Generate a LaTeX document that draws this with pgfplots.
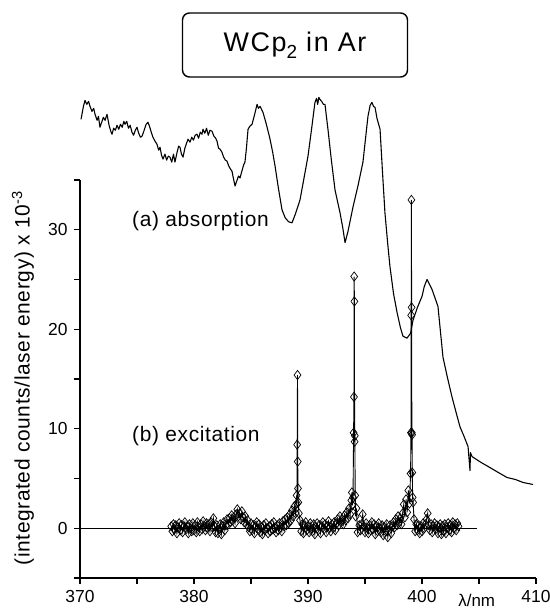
\documentclass[border=0pt]{standalone}
\usepackage{fontspec}
\setmainfont{Liberation Sans}
\usepackage{pgfplots}
\usepackage{pgfplotstable}
\pgfplotsset{compat=1.18}

\pgfplotstableread{
x y
370.09 41.1
370.30 42.4
370.44 43.0
370.60 42.6
370.75 42.9
370.88 42.4
371.05 41.9
371.20 42.2
371.32 41.6
371.50 41.0
371.62 41.4
371.75 40.3
371.90 40.8
372.05 41.3
372.20 41.0
372.37 41.6
372.55 40.5
372.70 39.9
372.81 39.6
372.95 40.2
373.10 40.0
373.25 40.5
373.40 40.1
373.55 40.6
373.70 40.3
373.85 40.9
373.95 40.6
374.10 40.9
374.25 40.2
374.40 40.5
374.56 39.8
374.70 39.5
374.85 40.0
375.00 40.3
375.15 39.7
375.30 39.3
375.44 39.4
375.60 39.9
375.80 40.6
375.96 40.8
376.10 40.4
376.25 39.8
376.40 39.3
376.58 38.9
376.75 38.6
376.90 38.0
377.02 38.3
377.15 37.5
377.28 37.1
377.45 37.6
377.60 37.0
377.75 37.4
377.89 37.3
378.05 36.8
378.20 37.6
378.33 36.8
378.50 37.7
378.65 38.4
378.77 38.3
378.90 37.6
379.04 37.3
379.20 38.2
379.35 38.7
379.47 39.1
379.65 38.8
379.80 39.3
379.95 39.0
380.10 39.5
380.26 39.6
380.40 39.2
380.55 39.8
380.70 39.6
380.79 40.1
380.95 39.7
381.10 40.2
381.25 39.5
381.40 40.0
381.58 39.9
381.75 39.4
381.90 39.2
382.02 38.9
382.15 38.2
382.28 38.1
382.45 37.8
382.60 37.3
382.75 37.0
382.89 36.9
383.05 36.4
383.20 36.1
383.33 35.9
383.45 35.2
383.60 34.4
383.75 34.9
383.90 35.4
384.04 35.2
384.20 35.9
384.35 36.5
384.47 36.8
384.60 38.2
384.74 40.1
384.90 40.4
385.09 40.6
385.30 41.5
385.53 42.6
385.65 42.2
385.80 42.4
386.05 41.8
386.30 40.8
386.50 39.9
386.67 39.1
386.90 37.8
387.11 36.4
387.40 34.2
387.72 32.0
388.00 31.2
388.30 30.8
388.60 30.7
388.90 31.6
389.30 33.0
389.65 35.2
390.00 37.4
390.30 40.0
390.61 42.8
390.75 43.2
390.85 42.6
390.95 43.3
391.05 43.1
391.20 42.9
391.35 42.6
391.49 42.6
391.75 40.1
392.05 37.0
392.37 34.0
392.81 31.7
393.05 30.2
393.25 28.7
393.50 29.8
393.95 32.3
394.40 34.5
394.82 36.8
395.26 41.4
395.45 42.5
395.61 42.8
395.75 42.4
395.88 42.3
396.05 41.2
396.32 40.1
396.55 35.5
396.75 31.7
397.00 28.5
397.19 26.3
397.50 23.6
397.81 21.7
398.10 20.2
398.33 19.3
398.68 19.1
399.00 19.6
399.21 20.9
399.60 22.2
400.00 23.3
400.20 24.3
400.44 25.0
400.88 24.0
401.40 22.3
401.84 17.2
402.20 15.3
402.63 13.2
403.00 11.6
403.33 10.2
403.70 9.2
404.04 8.2
404.21 5.8
404.25 7.6
404.39 7.2
405.20 6.6
405.96 6.1
406.70 5.6
407.46 5.1
408.20 4.9
408.86 4.6
409.74 4.4
}\absorption

\pgfplotstableread{
x y
378.0 0.2
378.1 -0.3
378.2 0.4
378.3 -0.1
378.4 0.3
378.5 -0.5
378.6 0.1
378.7 0.5
378.8 -0.2
378.9 0.3
379.0 -0.4
379.1 0.2
379.2 0.6
379.3 -0.1
379.4 0.2
379.5 -0.5
379.6 0.4
379.7 0.0
379.8 -0.3
379.9 0.5
380.0 -0.2
380.1 0.3
380.2 -0.4
380.3 0.6
380.4 0.1
380.5 -0.3
380.6 0.4
380.7 -0.1
380.8 0.7
380.9 0.2
381.0 -0.2
381.1 0.5
381.2 0.0
381.3 0.4
381.4 -0.3
381.5 0.6
381.6 0.1
381.7 1.0
381.8 0.2
381.9 -0.4
382.0 0.3
382.1 -0.5
382.2 -0.1
382.3 0.4
382.4 -0.6
382.5 0.2
382.6 0.6
382.7 -0.2
382.8 0.3
382.9 0.9
383.0 0.4
383.1 1.0
383.2 0.6
383.3 1.3
383.4 0.8
383.5 1.1
383.6 0.5
383.7 1.4
383.8 1.9
383.9 1.2
384.0 1.5
384.1 0.9
384.2 1.7
384.3 1.1
384.4 0.6
384.5 1.2
384.6 0.4
384.7 0.8
384.8 0.1
384.9 -0.3
385.0 0.5
385.1 -0.2
385.2 0.3
385.3 -0.5
385.4 0.2
385.5 0.6
385.6 -0.1
385.7 0.4
385.8 -0.4
385.9 0.1
386.0 -0.6
386.1 0.3
386.2 -0.2
386.3 0.5
386.4 0.0
386.5 -0.5
386.6 0.2
386.7 -0.3
386.8 0.4
386.9 -0.1
387.0 0.6
387.1 0.0
387.2 -0.4
387.3 0.3
387.4 -0.2
387.5 0.5
387.6 0.1
387.7 -0.3
387.8 0.7
387.9 0.2
388.0 0.9
388.1 0.3
388.2 1.1
388.3 0.5
388.4 1.4
388.5 0.8
388.6 1.8
388.7 1.2
388.8 2.2
388.9 1.5
389.00 3.3
389.03 2.5
389.05 8.4
389.08 15.4
389.10 6.7
389.12 4.0
389.15 2.6
389.20 1.5
389.30 0.8
389.4 -0.3
389.5 0.4
389.6 -0.5
389.7 0.3
389.8 0.6
389.9 -0.2
390.0 0.2
390.1 -0.4
390.2 0.5
390.3 0.0
390.4 -0.3
390.5 0.4
390.6 -0.6
390.7 0.1
390.8 0.5
390.9 -0.2
391.0 0.3
391.1 -0.5
391.2 0.2
391.3 0.6
391.4 -0.1
391.5 0.4
391.6 -0.4
391.7 0.2
391.8 0.7
391.9 0.1
392.0 -0.3
392.1 0.4
392.2 0.0
392.3 0.6
392.4 -0.2
392.5 0.5
392.6 0.9
392.7 0.3
392.8 1.2
392.9 0.6
393.0 0.9
393.1 0.4
393.2 1.3
393.3 0.8
393.4 1.6
393.5 1.0
393.6 2.0
393.7 1.4
393.80 2.8
393.85 3.6
393.90 2.3
393.95 3.1
394.00 9.6
394.03 13.2
394.05 25.3
394.07 22.8
394.09 8.7
394.11 9.3
394.14 3.3
394.18 1.2
394.25 2.0
394.35 -0.4
394.5 0.3
394.6 -0.2
394.7 0.4
394.8 1.4
394.9 0.2
395.0 -0.4
395.1 0.5
395.2 0.0
395.3 -0.5
395.4 0.3
395.5 -0.2
395.6 0.6
395.7 -0.1
395.8 0.4
395.9 -0.6
396.0 0.2
396.1 -0.3
396.2 0.5
396.3 0.0
396.4 -0.4
396.5 0.3
396.6 -0.7
396.7 0.1
396.8 -0.3
396.9 0.4
397.0 -0.9
397.1 -0.2
397.2 0.3
397.3 -0.5
397.4 0.2
397.5 0.6
397.6 0.1
397.7 0.9
397.8 0.3
397.9 1.2
398.0 0.6
398.1 1.0
398.2 0.4
398.3 1.5
398.4 2.4
398.5 1.1
398.6 2.9
398.7 1.6
398.8 3.8
398.9 2.5
399.00 5.5
399.03 9.6
399.05 21.4
399.07 33.0
399.09 22.2
399.11 9.6
399.13 9.4
399.15 5.6
399.18 3.1
399.22 2.6
399.30 0.9
399.4 -0.3
399.5 0.4
399.6 -0.2
399.7 0.3
399.8 -0.5
399.9 0.2
400.0 -0.3
400.1 0.5
400.2 0.0
400.3 0.4
400.4 0.9
400.5 1.5
400.6 0.3
400.7 -0.2
400.8 0.4
400.9 -0.4
401.0 0.2
401.1 0.5
401.2 -0.1
401.3 0.3
401.4 -0.5
401.5 0.1
401.6 0.4
401.7 -0.6
401.8 0.2
401.9 -0.3
402.0 0.4
402.1 -0.5
402.2 0.1
402.3 0.5
402.4 -0.2
402.5 0.3
402.6 -0.4
402.7 0.6
402.8 0.0
402.9 0.4
403.0 -0.2
403.1 0.5
403.2 0.2
}\excitation

\begin{document}
\begin{tikzpicture}
\path[use as bounding box] (-80bp,-37bp) rectangle (470bp,578bp);
\begin{axis}[
  at={(0,0)}, anchor=south west,
  scale only axis, width=456bp, height=398bp,
  xmin=370, xmax=410, ymin=-5, ymax=35,
  axis lines=left,
  axis line style={-, line width=1.4bp},
  xtick={370,380,...,410}, minor xtick={375,385,...,405},
  ytick={0,10,20,30}, minor ytick={-5,5,15,25,35},
  tick align=outside,
  major tick length=6bp, minor tick length=6bp,
  every tick/.style={black, line width=1.2bp},
  tick label style={font=\fontsize{17.5}{17.5}\selectfont},
  /pgf/number format/assume math mode=true,
  xticklabel style={yshift=-3bp},
  yticklabel style={xshift=-3bp},
  clip=false,
]
\addplot[black, line width=1bp] coordinates {(370,0) (404.8,0)};
\addplot[black, line width=1.1bp, line join=round] table[x=x,y=y] {\absorption};
\addplot[black, line width=0.9bp, mark=diamond, mark size=4.6bp,
  mark options={solid, line width=0.7bp, fill=none}] table[x=x,y=y] {\excitation};
\node[font=\fontsize{17}{17}\selectfont, inner sep=0pt] at (axis cs:404.8,-7.3) {λ/nm};
\end{axis}
\node[draw, rounded corners=7bp, line width=1.4bp, minimum width=225bp, minimum height=64bp,
  font=\fontsize{27}{27}\selectfont\addfontfeature{LetterSpace=6}] at (215bp,533bp) {WCp\raisebox{-0.25em}{\fontsize{19}{19}\selectfont 2} in Ar};
\node[anchor=west, font=\fontsize{21}{21}\selectfont\addfontfeature{LetterSpace=3}, inner sep=0pt] at (52bp,357bp) {(a) absorption};
\node[anchor=west, font=\fontsize{21}{21}\selectfont\addfontfeature{LetterSpace=3}, inner sep=0pt] at (52bp,142bp) {(b) excitation};
\node[rotate=90, font=\fontsize{21}{21}\selectfont\addfontfeature{LetterSpace=3}, inner sep=0pt] at (-57bp,200bp) {(integrated counts/laser energy) x 10\textsuperscript{-3}};
\end{tikzpicture}
\end{document}
